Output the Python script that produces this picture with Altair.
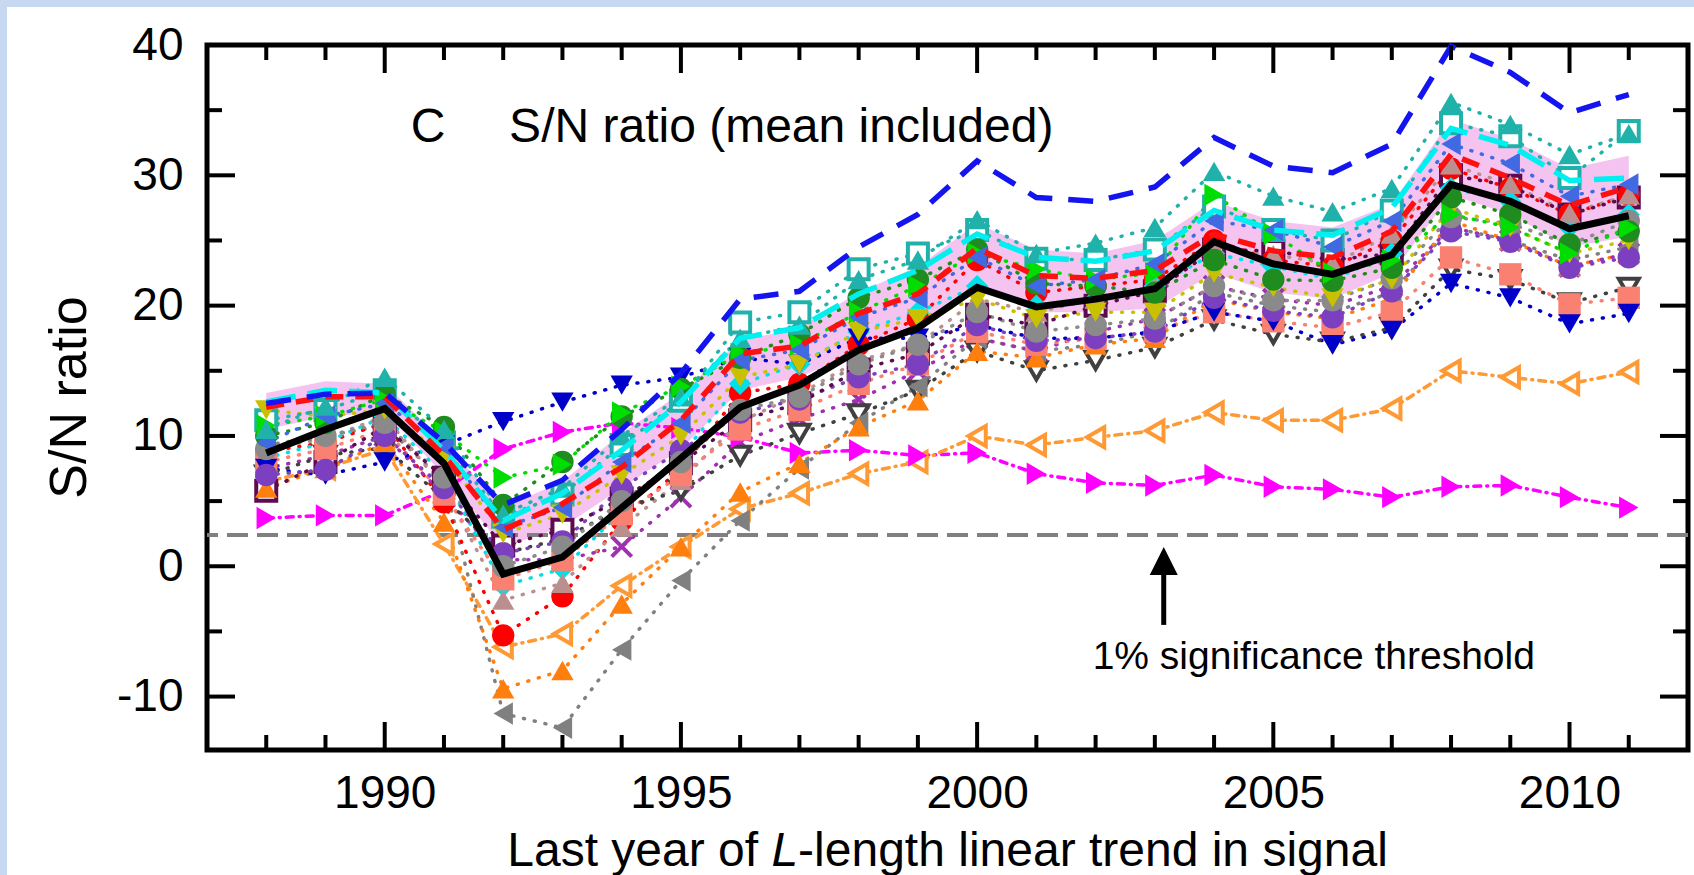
import altair as alt
import pandas as pd

# ---------------- data ----------------
YEARS = list(range(1988, 2012))

BLACK_MEAN = [8.7, 10.5, 12.1, 7.9, -0.6, 0.7, 4.5, 8.3, 12.2, 13.9, 16.6, 18.3, 21.4, 19.9, 20.5, 21.3,
              24.9, 23.2, 22.4, 23.9, 29.3, 28.0, 25.9, 26.9]
BLUE_DASH = [12.5, 13.2, 13.3, 9.5, 4.7, 6.6, 10.5, 14.8, 20.5, 21.1, 24.5, 27.0, 31.1, 28.3, 28.0, 29.1,
             32.9, 30.7, 30.2, 32.4, 39.9, 37.9, 34.8, 36.2]
RED_DASH = [12.2, 13.0, 13.0, 8.5, 2.8, 4.8, 7.6, 11.2, 16.3, 16.9, 19.4, 20.9, 24.4, 22.3, 22.1, 22.7,
            25.5, 24.2, 23.7, 25.7, 31.6, 29.8, 27.7, 29.1]
CYAN_DASH = [12.6, 13.5, 13.3, 8.9, 3.5, 5.6, 8.9, 12.6, 17.5, 18.3, 20.9, 22.7, 25.5, 23.7, 23.4, 24.2,
             27.3, 25.8, 25.4, 27.5, 33.6, 32.3, 29.6, 29.8]
BAND_LO = [10.5, 11.5, 11.8, 7.0, 1.5, 3.0, 6.0, 9.0, 13.5, 14.5, 16.5, 18.0, 21.5, 19.5, 19.5, 19.8,
           22.5, 21.0, 20.5, 22.5, 28.5, 27.0, 24.5, 25.3]
BAND_HI = [13.3, 14.2, 14.0, 9.5, 4.5, 6.5, 10.2, 13.3, 17.3, 18.3, 21.0, 23.0, 26.3, 24.3, 24.0, 25.0,
           28.0, 26.5, 26.0, 27.8, 34.3, 32.8, 30.5, 31.5]

TEAL_TRI = [10.5, 12.3, 14.5, 10.5, 4.0, 6.0, 10.0, 13.0, 17.5, 18.5, 22.0, 23.5, 26.6, 24.0, 24.8, 26.0,
            30.3, 28.4, 27.2, 29.0, 35.6, 33.9, 31.6, 33.2]
TEAL_SQ = [11.2, 12.0, 13.5, 9.5, 3.8, 5.5, 9.3, 12.7, 18.7, 19.5, 22.8, 24.0, 25.8, 23.6, 23.5, 24.3,
           27.6, 25.8, 25.0, 27.3, 34.0, 33.0, 29.8, 33.4]
GREEN_CIRC = [10.0, 11.0, 13.2, 10.7, 4.7, 8.0, 11.5, 13.6, 16.0, 17.8, 20.6, 22.0, 24.3, 21.7, 21.5, 21.0,
              23.5, 22.0, 21.9, 22.9, 28.3, 27.0, 24.7, 25.7]
LIME_TRI = [10.8, 11.5, 12.8, 10.3, 6.8, 7.8, 11.8, 13.8, 16.3, 17.0, 19.5, 21.5, 24.0, 22.8, 22.0, 22.5,
            28.5, 25.5, 22.5, 23.5, 27.0, 26.0, 24.0, 26.0]
ROYAL_TRI = [9.5, 11.5, 12.5, 9.2, 3.0, 4.5, 8.0, 11.0, 15.8, 16.6, 19.1, 20.6, 23.7, 21.5, 22.0, 23.2,
             26.5, 25.8, 24.5, 26.5, 32.4, 30.9, 28.4, 29.3]
NAVY_TRI = [7.5, 7.0, 8.0, 9.3, 11.1, 12.6, 13.9, 14.5, 16.0, 15.5, 17.5, 17.5, 18.5, 17.5, 17.5, 18.0,
            19.5, 18.8, 17.0, 18.1, 21.7, 20.6, 18.6, 19.4]
DKGREY_OPEN = [7.0, 8.5, 9.1, 5.2, 1.0, 2.1, 4.5, 5.8, 8.5, 10.2, 11.7, 13.5, 16.5, 15.0, 15.8, 16.8,
               18.9, 17.8, 17.2, 18.3, 22.8, 22.0, 20.2, 21.4]
DKPURPLE_SQ = [5.8, 8.0, 10.7, 6.8, 1.6, 2.8, 5.2, 7.9, 11.2, 12.5, 15.1, 16.3, 19.3, 18.5, 20.0, 21.1,
               24.3, 24.2, 23.5, 24.0, 30.0, 29.2, 27.0, 28.3]
ORANGE_OPEN = [6.5, 7.5, 9.0, 1.7, -6.2, -5.2, -1.5, 1.5, 4.4, 5.6, 7.1, 8.0, 10.0, 9.3, 9.9, 10.4,
               11.8, 11.2, 11.2, 12.1, 15.0, 14.5, 14.0, 14.9]
ORANGE_TRI = [6.0, 7.5, 9.5, 3.4, -9.4, -8.0, -2.9, 1.5, 5.7, 7.9, 10.7, 12.7, 16.5, 16.0, 17.0, 17.5,
              20.5, 19.5, 19.0, 20.5, 26.5, 25.0, 23.0, 24.0]
GREY_TRI = [9.3, 10.0, 10.8, 6.5, -11.3, -12.4, -6.4, -1.1, 3.5, 7.5, 11.0, 13.8, 17.5, 16.5, 17.0, 18.0,
            21.0, 20.0, 19.5, 21.0, 26.0, 25.0, 23.5, 24.5]
RED_CIRC = [8.8, 9.5, 11.0, 4.9, -5.3, -2.3, 3.5, 7.5, 13.3, 14.0, 17.0, 19.0, 23.5, 21.0, 21.5, 22.0,
            25.0, 23.5, 23.0, 25.0, 30.5, 29.0, 27.0, 28.5]
CYAN_DIA = [8.3, 9.5, 11.5, 7.0, -1.5, -0.2, 4.2, 8.5, 14.0, 15.5, 18.0, 19.5, 21.5, 20.0, 20.5, 21.5,
            24.0, 23.0, 22.0, 24.0, 29.0, 28.0, 26.0, 27.0]
ROSY_TRI = [9.0, 9.8, 11.5, 6.0, -2.6, -1.3, 3.0, 6.6, 11.1, 13.2, 15.8, 17.0, 20.5, 19.5, 20.5, 21.5,
            24.5, 23.9, 23.2, 25.5, 30.8, 29.3, 27.1, 28.5]
PURPLE_CIRC = [7.0, 7.4, 10.0, 6.0, 1.0, 1.9, 6.0, 8.9, 11.8, 12.8, 14.5, 15.5, 18.5, 17.3, 17.5, 18.0,
               20.6, 19.6, 19.1, 21.1, 25.7, 24.9, 22.9, 23.7]
PURPLE_X = [7.5, 8.5, 10.0, 5.5, 0.5, 0.5, 1.5, 5.3, 9.5, 11.3, 12.8, 15.0, 17.5, 16.5, 18.0, 19.0,
            21.5, 20.5, 20.0, 21.5, 26.0, 25.0, 23.0, 24.0]
SALMON_SQ = [8.0, 9.0, 10.5, 5.5, -1.0, 0.5, 4.0, 7.0, 10.5, 12.0, 14.0, 15.5, 18.0, 17.0, 17.5, 18.0,
             19.5, 18.8, 18.3, 19.5, 23.7, 22.4, 20.1, 20.6]
OLIVE_TRI = [12.0, 11.5, 12.0, 8.5, 2.5, 4.0, 7.0, 10.0, 14.5, 15.5, 18.0, 19.0, 20.5, 19.0, 19.5, 19.5,
             22.5, 21.4, 20.6, 22.0, 27.5, 26.0, 24.0, 25.0]
GREY_CIRC = [9.0, 10.0, 11.0, 6.8, 0.0, 1.5, 5.0, 8.0, 12.0, 13.0, 15.5, 17.0, 19.5, 18.0, 18.5, 19.0,
             21.5, 20.4, 20.4, 22.1, 26.8, 26.3, 24.7, 26.5]
MAGENTA_TRI = [3.7, 3.9, 3.9, 5.8, 9.0, 10.3, 11.0, 10.6, 9.9, 8.7, 8.9, 8.5, 8.7, 7.1, 6.4, 6.2,
               7.0, 6.1, 5.9, 5.3, 6.1, 6.2, 5.3, 4.5]

THRESHOLD = 2.4
X_MAJOR = [1990, 1995, 2000, 2005, 2010]
X_MINOR = [1988, 1989, 1991, 1992, 1993, 1994, 1996, 1997, 1998, 1999, 2001, 2002, 2003, 2004,
           2006, 2007, 2008, 2009, 2011]
Y_MAJOR = [-10, 0, 10, 20, 30, 40]
Y_MINOR = [-5, 5, 15, 25, 35]

# ---------------- styles ----------------
DOT = [1, 10]
DASHDOT = [7, 6, 1, 6]
XPATH = "M-1,-1L1,1M-1,1L1,-1"
# name, values, color, shape, filled, dash
SERIES = [
    ("magenta_tri", MAGENTA_TRI, "#ff00ff", "triangle-right", True, DASHDOT),
    ("orange_open", ORANGE_OPEN, "#ff9933", "triangle-left", False, DASHDOT),
    ("grey_tri", GREY_TRI, "#808080", "triangle-left", True, DOT),
    ("orange_tri", ORANGE_TRI, "#ff7f0e", "triangle-up", True, DOT),
    ("red_circ", RED_CIRC, "#ff0000", "circle", True, DOT),
    ("cyan_dia", CYAN_DIA, "#00e0e8", "diamond", True, DOT),
    ("rosy_tri", ROSY_TRI, "#bc8f8f", "triangle-up", True, DOT),
    ("purple_x", PURPLE_X, "#a030b0", XPATH, False, DOT),
    ("salmon_sq", SALMON_SQ, "#fa8072", "square", True, DOT),
    ("navy_tri", NAVY_TRI, "#0000c8", "triangle-down", True, DOT),
    ("dkgrey_open", DKGREY_OPEN, "#404040", "triangle-down", False, DOT),
    ("purple_circ", PURPLE_CIRC, "#7b3fc0", "circle", True, DOT),
    ("grey_circ", GREY_CIRC, "#8a8a8a", "circle", True, DOT),
    ("olive_tri", OLIVE_TRI, "#c8c000", "triangle-down", True, DOT),
    ("dkpurple_sq", DKPURPLE_SQ, "#5e0a4e", "square", False, DOT),
    ("green_circ", GREEN_CIRC, "#1e8c1e", "circle", True, DOT),
    ("lime_tri", LIME_TRI, "#00dd00", "triangle-right", True, DOT),
    ("royal_tri", ROYAL_TRI, "#4169e1", "triangle-left", True, DOT),
    ("teal_sq", TEAL_SQ, "#20b2aa", "square", False, DOT),
    ("teal_tri", TEAL_TRI, "#20b2aa", "triangle-up", True, DOT),
]

names = [s[0] for s in SERIES]
colors = [s[2] for s in SERIES]
shapes = [s[3] for s in SERIES]
dashes = [s[5] for s in SERIES]
filled_names = [s[0] for s in SERIES if s[4]]
open_names = [s[0] for s in SERIES if not s[4]]

rows = []
for name, vals, *_ in SERIES:
    for yr, v in zip(YEARS, vals):
        rows.append({"series": name, "year": yr, "value": v})
df = pd.DataFrame(rows)
df_filled = df[df.series.isin(filled_names)]
df_open = df[df.series.isin(open_names)]

main = pd.DataFrame({"year": YEARS, "black": BLACK_MEAN, "blue": BLUE_DASH, "red": RED_DASH,
                     "cyan": CYAN_DASH, "lo": BAND_LO, "hi": BAND_HI})

W, H = 1481, 705
FONT = "Liberation Sans"
xs = alt.Scale(domain=[1987, 2012], nice=False, zero=False)
ys = alt.Scale(domain=[-14.1, 40], nice=False, zero=False)
AXX = alt.Axis(values=X_MAJOR, format="d", labelFontSize=46, labelFont=FONT, labelColor="black",
               labelPadding=21, ticks=False, domain=False, grid=False, title=None)
AXY = alt.Axis(values=Y_MAJOR, labelExpr="'' + datum.value", labelFontSize=46, labelFont=FONT,
               labelColor="black", labelPadding=24, ticks=False, domain=False, grid=False,
               title=None)


def X(field):
    return alt.X(field, type="quantitative", scale=xs, axis=AXX)


def Y(field):
    return alt.Y(field, type="quantitative", scale=ys, axis=AXY)


color_enc = alt.Color("series:N", scale=alt.Scale(domain=names, range=colors), legend=None)
shape_enc = alt.Shape("series:N", scale=alt.Scale(domain=names, range=shapes), legend=None)
dash_enc = alt.StrokeDash("series:N", scale=alt.Scale(domain=names, range=dashes), legend=None)

one = pd.DataFrame({"a": [0]})

# light-blue frame on the top and left edge of the picture
frame_top = alt.Chart(one).mark_rect(color="#c6d9f0").encode(
    x=alt.value(-207), x2=alt.value(W + 6), y=alt.value(-45), y2=alt.value(-38))
frame_left = alt.Chart(one).mark_rect(color="#c6d9f0").encode(
    x=alt.value(-207), x2=alt.value(-200), y=alt.value(-45), y2=alt.value(H + 125))

band = alt.Chart(main).mark_area(color="#f5c3f0", opacity=1).encode(
    x=X("year"), y=Y("lo"), y2="hi")

thresh = alt.Chart(pd.DataFrame({"v": [THRESHOLD]})).mark_rule(
    color="#808080", strokeWidth=4, strokeDash=[21, 9]).encode(y=Y("v"))

dotted = alt.Chart(df).mark_line(strokeWidth=3.5, strokeCap="round").encode(
    x=X("year"), y=Y("value"), color=color_enc, strokeDash=dash_enc)

pts_open = alt.Chart(df_open).mark_point(filled=False, fill="white", strokeWidth=4, size=400,
                                         opacity=1).encode(
    x=X("year"), y=Y("value"), color=color_enc, shape=shape_enc)
pts_filled = alt.Chart(df_filled).mark_point(filled=True, size=500, opacity=1).encode(
    x=X("year"), y=Y("value"), color=color_enc, shape=shape_enc)

cyan = alt.Chart(main).mark_line(color="#00f0f0", strokeWidth=5.5, strokeDash=[30, 12]).encode(
    x=X("year"), y=Y("cyan"))
red = alt.Chart(main).mark_line(color="#ff1010", strokeWidth=5.5, strokeDash=[18, 12]).encode(
    x=X("year"), y=Y("red"))
blue = alt.Chart(main).mark_line(color="#1414f0", strokeWidth=5.5, strokeDash=[25, 16]).encode(
    x=X("year"), y=Y("blue"))
black = alt.Chart(main).mark_line(color="black", strokeWidth=7).encode(
    x=X("year"), y=Y("black"))

# inward ticks on all four sides
tick_layers = []
for vals, ln in ((X_MAJOR, 28), (X_MINOR, 15)):
    d = pd.DataFrame({"t": vals})
    tick_layers.append(alt.Chart(d).mark_rule(color="black", strokeWidth=4).encode(
        x=X("t"), y=alt.value(H), y2=alt.value(H - ln)))
    tick_layers.append(alt.Chart(d).mark_rule(color="black", strokeWidth=4).encode(
        x=X("t"), y=alt.value(0), y2=alt.value(ln)))
for vals, ln in ((Y_MAJOR, 28), (Y_MINOR, 15)):
    d = pd.DataFrame({"t": vals})
    tick_layers.append(alt.Chart(d).mark_rule(color="black", strokeWidth=4).encode(
        y=Y("t"), x=alt.value(0), x2=alt.value(ln)))
    tick_layers.append(alt.Chart(d).mark_rule(color="black", strokeWidth=4).encode(
        y=Y("t"), x=alt.value(W), x2=alt.value(W - ln)))

# arrow to the threshold line
arrow_df = pd.DataFrame({"x": [2003.15], "y0": [-4.5], "y1": [0.0], "yh": [0.4]})
shaft = alt.Chart(arrow_df).mark_rule(color="black", strokeWidth=5).encode(
    x=X("x"), y=Y("y0"), y2="y1")
head = alt.Chart(arrow_df).mark_point(shape="M0,-1L1,1L-1,1Z", filled=True, color="black",
                                      size=784, opacity=1).encode(x=X("x"), y=Y("yh"))

ann = pd.DataFrame({"x": [1990.44, 1992.1], "y": [33.6, 33.6],
                    "t": ["C", "S/N ratio (mean included)"]})
ann_text = alt.Chart(ann).mark_text(align="left", baseline="middle", fontSize=48, font=FONT,
                                    color="black").encode(x=X("x"), y=Y("y"), text="t:N")
thr_df = pd.DataFrame({"x": [2001.95], "y": [-7.0], "t": ["1% significance threshold"]})
thr_text = alt.Chart(thr_df).mark_text(align="left", baseline="middle", fontSize=39, font=FONT,
                                       color="black").encode(x=X("x"), y=Y("y"), text="t:N")

# axis titles (x title has an italic L)
FS_T = 48
x0 = W / 2 - 18.342 * FS_T / 2
xl = x0 + 5.503 * FS_T
title_parts = [
    ("Last year of", x0, "normal"),
    ("L", xl, "italic"),
    ("-length linear trend in signal", xl + 0.556 * FS_T, "normal"),
]
xtitle = []
for txt, px, style in title_parts:
    xtitle.append(alt.Chart(pd.DataFrame({"t": [txt]})).mark_text(
        align="left", baseline="alphabetic", fontSize=FS_T, font=FONT, fontStyle=style,
        color="black").encode(x=alt.value(px), y=alt.value(821), text="t:N"))
ytitle = alt.Chart(pd.DataFrame({"t": ["S/N ratio"]})).mark_text(
    align="center", baseline="middle", fontSize=52, font=FONT, angle=270, color="black").encode(
    x=alt.value(-137), y=alt.value(H / 2), text="t:N")

chart = alt.layer(
    frame_top, frame_left, band, thresh, dotted, pts_open, pts_filled, cyan, red, blue, black,
    *tick_layers, shaft, head, ann_text, thr_text, *xtitle, ytitle
).properties(
    width=W, height=H,
    padding={"left": 207, "top": 45, "right": 6, "bottom": 125},
    autosize=alt.AutoSizeParams(type="none"),
    background="white",
).configure(font=FONT).configure_view(stroke="black", strokeWidth=5)

chart.save("out.html", embed_options={"renderer": "svg", "actions": False})
